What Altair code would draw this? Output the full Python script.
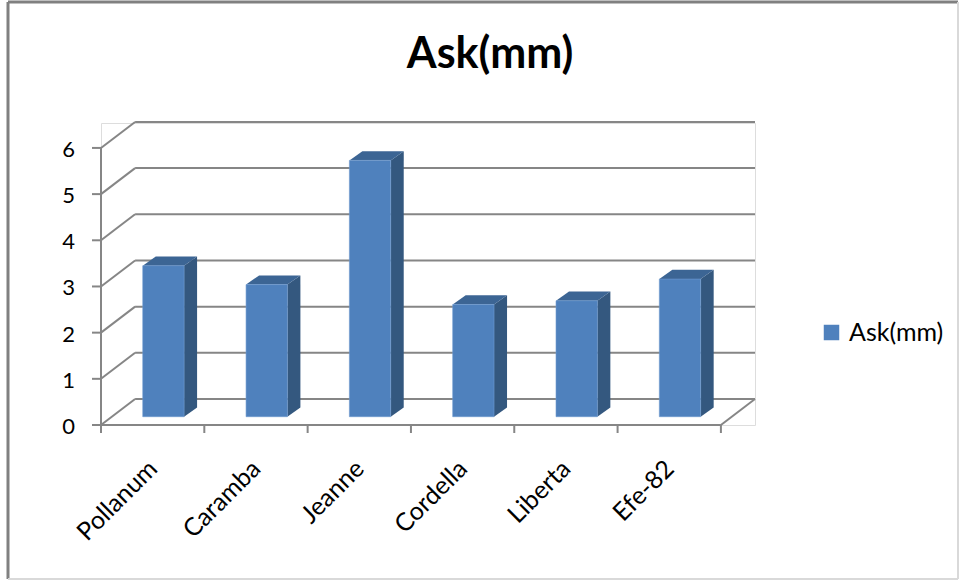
import altair as alt
import pandas as pd

# ---- data ----
categories = ["Pollanum", "Caramba", "Jeanne", "Cordella", "Liberta", "Efe-82"]
values = [3.27, 2.86, 5.55, 2.43, 2.51, 2.98]
y_ticks = [0, 1, 2, 3, 4, 5, 6]
series_name = "Ask(mm)"
chart_title = "Ask(mm)"

# ---- pseudo-3D geometry (data units) ----
DX, DY = 0.33, 0.563      # depth of the floor / walls
BL, BW = 0.404, 0.40      # bar left offset inside a category, bar width
BY = 0.18                 # bar front plane lifted above front axis
BDX, BDY = 0.126, 0.20    # bar depth
N = len(categories)
XMAX = N + DX
YMAX = 6.54
W, H = 654, 302

FONT = "Lato"
GRID = "#868686"
FRONT = "#4F81BD"
SIDE = "#34587F"
TOP = "#3C6594"

xs = alt.Scale(domain=[0, XMAX], nice=False, zero=False)
ys = alt.Scale(domain=[0, YMAX], nice=False, zero=False)

bars = pd.DataFrame({
    "name": categories,
    "v": values,
    "i": list(range(N)),
})
bars["xl"] = bars["i"] + BL
bars["xr"] = bars["xl"] + BW
bars["yb"] = BY
bars["yt"] = BY + bars["v"]
bars["series"] = series_name
bars["xc"] = bars["i"] + 0.505
bars["ylab"] = -0.86

side_rows, top_rows = [], []
for _, r in bars.iterrows():
    side_rows.append({"name": r["name"], "x": r["xr"], "lo": r["yb"], "hi": r["yt"]})
    side_rows.append({"name": r["name"], "x": r["xr"] + BDX, "lo": r["yb"] + BDY, "hi": r["yt"] + BDY})
    top_rows.append({"name": r["name"], "y": r["yt"], "l": r["xl"], "r": r["xr"]})
    top_rows.append({"name": r["name"], "y": r["yt"] + BDY, "l": r["xl"] + BDX, "r": r["xr"] + BDX})
side = pd.DataFrame(side_rows)
top = pd.DataFrame(top_rows)

grid = pd.DataFrame({"v": y_ticks, "lab": [str(v) for v in y_ticks]})
grid["x0"] = 0.0
grid["x1"] = DX
grid["x2"] = XMAX
grid["yb"] = grid["v"] + DY

xticks = pd.DataFrame({"b": list(range(N + 1))})

lines = pd.DataFrame([
    {"x": 0, "x2": N, "y": 0, "y2": 0},                 # front x axis line
    {"x": 0, "x2": 0, "y": 0, "y2": max(y_ticks)},      # front y axis line
    {"x": N, "x2": N + DX, "y": 0, "y2": DY},           # floor right edge
])

back_grid = alt.Chart(grid).mark_rule(color=GRID, strokeWidth=2).encode(
    x=alt.X("x1:Q", scale=xs, axis=None), x2="x2:Q",
    y=alt.Y("yb:Q", scale=ys, axis=None),
)
left_diag = alt.Chart(grid).mark_rule(color=GRID, strokeWidth=2).encode(
    x=alt.X("x0:Q", scale=xs, axis=None), x2="x1:Q",
    y=alt.Y("v:Q", scale=ys, axis=None), y2="yb:Q",
)
axis_lines = alt.Chart(lines).mark_rule(color=GRID, strokeWidth=2).encode(
    x=alt.X("x:Q", scale=xs, axis=None), x2="x2:Q",
    y=alt.Y("y:Q", scale=ys, axis=None), y2="y2:Q",
)
y_tick_marks = alt.Chart(grid).mark_rule(color=GRID, strokeWidth=2).encode(
    x=alt.value(-9), x2=alt.value(0),
    y=alt.Y("v:Q", scale=ys, axis=None),
)
y_tick_labels = alt.Chart(grid).mark_text(align="right", baseline="middle", fontSize=22,
                                          font=FONT, color="#000000", dy=2).encode(
    x=alt.value(-26),
    y=alt.Y("v:Q", scale=ys, axis=None),
    text="lab:N",
)
x_tick_marks = alt.Chart(xticks).mark_rule(color=GRID, strokeWidth=2).encode(
    x=alt.X("b:Q", scale=xs, axis=None),
    y=alt.value(H), y2=alt.value(H + 8),
)

side_faces = alt.Chart(side).mark_area(color=SIDE, orient="vertical").encode(
    x=alt.X("x:Q", scale=xs, axis=None),
    y=alt.Y("lo:Q", scale=ys, axis=None), y2="hi:Q",
    detail="name:N",
)
top_faces = alt.Chart(top).mark_area(color=TOP, orient="horizontal").encode(
    y=alt.Y("y:Q", scale=ys, axis=None),
    x=alt.X("l:Q", scale=xs, axis=None), x2="r:Q",
    detail="name:N",
)
front_faces = alt.Chart(bars).mark_rect(stroke="#6F9AD0", strokeWidth=0.6).encode(
    x=alt.X("xl:Q", scale=xs, axis=None), x2="xr:Q",
    y=alt.Y("yb:Q", scale=ys, axis=None), y2="yt:Q",
    color=alt.Color("series:N", scale=alt.Scale(domain=[series_name], range=[FRONT]),
                    legend=alt.Legend(title=None, orient="none", legendX=718, legendY=197,
                                      symbolType="square", symbolSize=240, symbolStrokeWidth=0,
                                      labelFontSize=25, labelFont=FONT, labelColor="#000000",
                                      labelOffset=5, padding=0)),
)

x_labels = alt.Chart(bars).mark_text(angle=315, align="right", baseline="middle",
                                     fontSize=25, font=FONT, color="#000000").encode(
    x=alt.X("xc:Q", scale=xs, axis=None),
    y=alt.Y("ylab:Q", scale=ys, axis=None),
    text="name:N",
)

title_mark = alt.Chart(pd.DataFrame({"t": [chart_title]})).mark_text(
    align="center", baseline="alphabetic", fontSize=43, fontWeight="bold",
    font=FONT, color="#000000").encode(
    x=alt.value(389), y=alt.value(-55), text="t:N",
)

frame_df = pd.DataFrame({"k": [0]})
frame_dark = alt.Chart(frame_df).mark_rule(color="#808080", strokeWidth=3)
frame_top = frame_dark.encode(x=alt.value(-93), x2=alt.value(857), y=alt.value(-121))
frame_left = frame_dark.encode(x=alt.value(-93), y=alt.value(-121), y2=alt.value(456))
frame_light = alt.Chart(frame_df).mark_rule(color="#D9D9D9", strokeWidth=2)
frame_bottom = frame_light.encode(x=alt.value(-93), x2=alt.value(857), y=alt.value(456))
frame_right = frame_light.encode(x=alt.value(857), y=alt.value(-121), y2=alt.value(456))

chart = alt.layer(
    back_grid, left_diag, axis_lines, y_tick_marks, y_tick_labels, x_tick_marks,
    side_faces, top_faces, front_faces, x_labels, title_mark,
    frame_top, frame_left, frame_bottom, frame_right,
).properties(
    width=W, height=H,
    autosize=alt.AutoSizeParams(type="none"),
    padding={"left": 101, "top": 123, "right": 205, "bottom": 158},
).configure_view(stroke=None).configure(background="#FFFFFF", font=FONT)

chart.save("out.html", embed_options={"renderer": "svg", "actions": False})
